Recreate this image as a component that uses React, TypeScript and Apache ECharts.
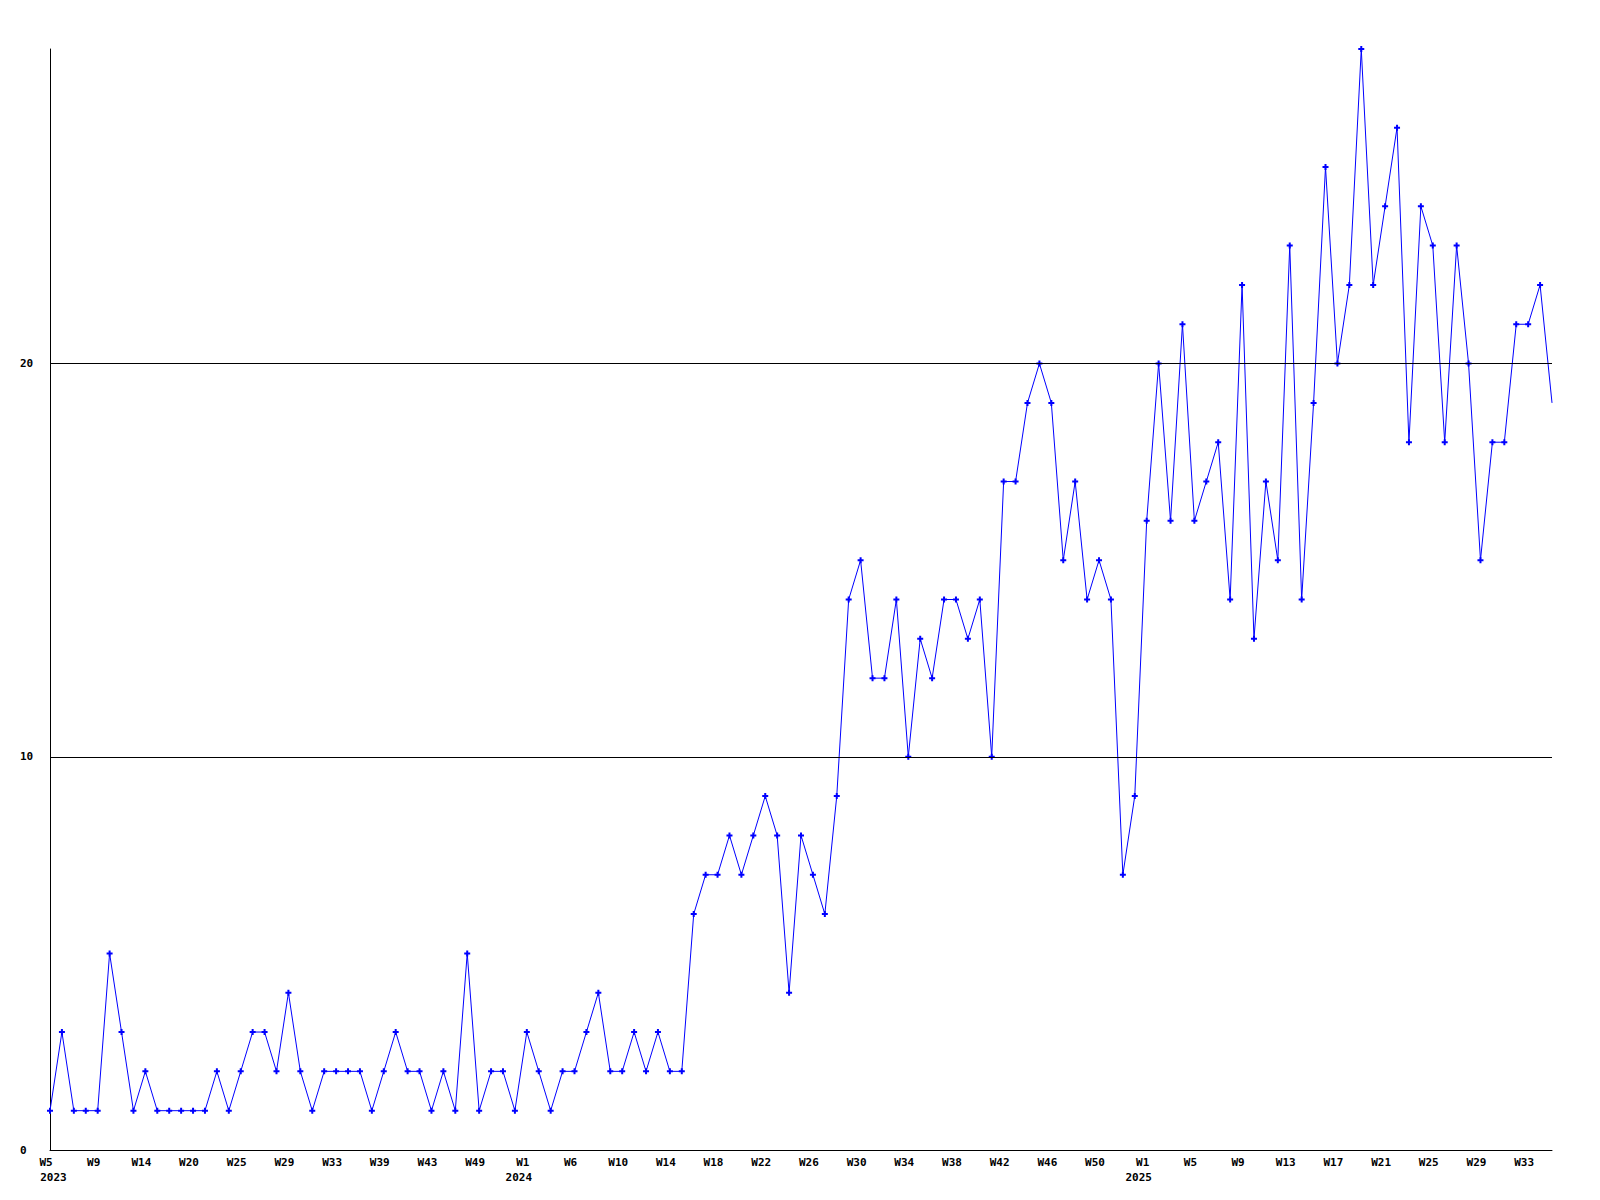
import React, { useEffect, useRef } from "react";
import * as echarts from "echarts";

const weeks: string[] = [
  "2023 W5", "2023 W6", "2023 W7", "2023 W8", "2023 W9", "2023 W10", "2023 W11", "2023 W12", "2023 W14", "2023 W15",
  "2023 W17", "2023 W18", "2023 W20", "2023 W21", "2023 W22", "2023 W24", "2023 W25", "2023 W26", "2023 W27", "2023 W28",
  "2023 W29", "2023 W30", "2023 W31", "2023 W32", "2023 W33", "2023 W34", "2023 W36", "2023 W38", "2023 W39", "2023 W40",
  "2023 W41", "2023 W42", "2023 W43", "2023 W44", "2023 W46", "2023 W47", "2023 W49", "2023 W50", "2023 W51", "2023 W52",
  "2024 W1", "2024 W2", "2024 W3", "2024 W5", "2024 W6", "2024 W7", "2024 W8", "2024 W9", "2024 W10", "2024 W11",
  "2024 W12", "2024 W13", "2024 W14", "2024 W15", "2024 W16", "2024 W17", "2024 W18", "2024 W19", "2024 W20", "2024 W21",
  "2024 W22", "2024 W23", "2024 W24", "2024 W25", "2024 W26", "2024 W27", "2024 W28", "2024 W29", "2024 W30", "2024 W31",
  "2024 W32", "2024 W33", "2024 W34", "2024 W35", "2024 W36", "2024 W37", "2024 W38", "2024 W39", "2024 W40", "2024 W41",
  "2024 W42", "2024 W43", "2024 W44", "2024 W45", "2024 W46", "2024 W47", "2024 W48", "2024 W49", "2024 W50", "2024 W51",
  "2024 W52", "2024 W53", "2025 W1", "2025 W2", "2025 W3", "2025 W4", "2025 W5", "2025 W6", "2025 W7", "2025 W8",
  "2025 W9", "2025 W10", "2025 W11", "2025 W12", "2025 W13", "2025 W14", "2025 W15", "2025 W16", "2025 W17", "2025 W18",
  "2025 W19", "2025 W20", "2025 W21", "2025 W22", "2025 W23", "2025 W24", "2025 W25", "2025 W26", "2025 W27", "2025 W28",
  "2025 W29", "2025 W30", "2025 W31", "2025 W32", "2025 W33", "2025 W34", "2025 W35",
];

const counts: number[] = [
  1, 3, 1, 1, 1, 5, 3, 1, 2, 1,
  1, 1, 1, 1, 2, 1, 2, 3, 3, 2,
  4, 2, 1, 2, 2, 2, 2, 1, 2, 3,
  2, 2, 1, 2, 1, 5, 1, 2, 2, 1,
  3, 2, 1, 2, 2, 3, 4, 2, 2, 3,
  2, 3, 2, 2, 6, 7, 7, 8, 7, 8,
  9, 8, 4, 8, 7, 6, 9, 14, 15, 12,
  12, 14, 10, 13, 12, 14, 14, 13, 14, 10,
  17, 17, 19, 20, 19, 15, 17, 14, 15, 14,
  7, 9, 16, 20, 16, 21, 16, 17, 18, 14,
  22, 13, 17, 15, 23, 14, 19, 25, 20, 22,
  28, 22, 24, 26, 18, 24, 23, 18, 23, 20,
  15, 18, 18, 21, 21, 22, 19,
];

const gridLines: number[] = [10, 20];

const FONT = "'DejaVu Sans Mono', 'Liberation Mono', monospace";
const baseText = { fontFamily: FONT, fontWeight: "bold" as const, fontSize: 11, lineHeight: 15, color: "#000" };

export default function App() {
  const ref = useRef<HTMLDivElement>(null);

  useEffect(() => {
    if (!ref.current) return;
    const chart = echarts.init(ref.current, undefined, { renderer: "svg" });
    const yearOf = (s: string) => s.split(" ")[0];
    const seriesData = counts.map((v, i) =>
      i === counts.length - 1 ? { value: v, symbol: "none" } : v
    );
    chart.setOption({
      animation: false,
      backgroundColor: "#ffffff",
      grid: { left: 50, right: 48, top: 49, bottom: 50, containLabel: false },
      xAxis: {
        type: "category",
        data: weeks,
        boundaryGap: false,
        axisLine: { show: true, lineStyle: { color: "#000", width: 1 } },
        axisTick: { show: false },
        splitLine: { show: false },
        axisLabel: {
          interval: 3,
          margin: 5,
          ...baseText,
          rich: {
            w: { ...baseText, padding: [0, 8, 0, 0] },
            y: { ...baseText, padding: [0, 16, 0, 0] },
            y0: { ...baseText, padding: [0, 0, 0, 7] },
          },
          formatter: (value: string, index: number) => {
            const [y, w] = value.split(" ");
            const isFirst = index === 0 || yearOf(weeks[index - 1]) !== y;
            if (!isFirst) return `{w|${w}}`;
            return `{w|${w}}\n{${index === 0 ? "y0" : "y"}|${y}}`;
          },
        },
      },
      yAxis: {
        type: "value",
        min: 0,
        max: 28,
        interval: 10,
        axisLine: { show: true, lineStyle: { color: "#000", width: 1 } },
        axisTick: { show: false },
        splitLine: { show: false },
        axisLabel: {
          showMaxLabel: false,
          align: "left",
          margin: 30,
          color: "#000",
          fontFamily: FONT,
          fontWeight: "bold",
          fontSize: 11,
        },
      },
      series: [
        {
          type: "line",
          data: seriesData,
          showAllSymbol: true,
          symbol: "path://M2,0H4V2H6V4H4V6H2V4H0V2H2Z",
          symbolSize: 6,
          lineStyle: { color: "#0000ff", width: 1 },
          itemStyle: { color: "#0000ff" },
          emphasis: { disabled: true },
          markLine: {
            silent: true,
            symbol: ["none", "none"],
            label: { show: false },
            lineStyle: { color: "#000", width: 1, type: "solid" },
            emphasis: { disabled: true },
            data: gridLines.map((v) => ({ yAxis: v })),
          },
          z: 3,
        },
      ],
    });
    return () => chart.dispose();
  }, []);

  return (
    <div
      ref={ref}
      style={{ position: "absolute", left: 0, top: 0, width: 1600, height: 1200, background: "#fff" }}
    />
  );
}
